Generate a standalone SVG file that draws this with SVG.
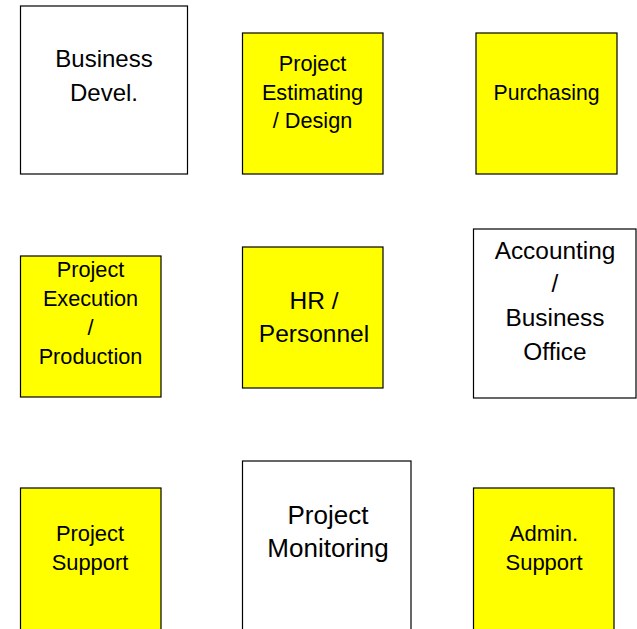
<svg xmlns="http://www.w3.org/2000/svg" width="637" height="629" viewBox="0 0 637 629">
<style>
.box{stroke:#000;stroke-width:1.2;}
.w{fill:#fff;}
.y{fill:#ffff00;}
text{font-family:"Liberation Sans",Arial,sans-serif;fill:#000;text-anchor:middle;}
</style>
<rect width="637" height="629" fill="#fff"/>
<g id="connectors"></g>
<g id="business-devel">
<rect class="box w" x="20.5" y="6" width="167" height="168"/>
<text font-size="24" x="104" y="67">Business</text>
<text font-size="24" x="104" y="101">Devel.</text>
</g>
<g id="project-estimating">
<rect class="box y" x="242.5" y="33" width="140.5" height="141"/>
<text font-size="21.7" x="312.5" y="71">Project</text>
<text font-size="21.7" x="312.5" y="99.5">Estimating</text>
<text font-size="21.7" x="312.5" y="128.3">/ Design</text>
</g>
<g id="purchasing">
<rect class="box y" x="476" y="33" width="141" height="141"/>
<text font-size="21.2" x="546.5" y="100">Purchasing</text>
</g>
<g id="project-execution">
<rect class="box y" x="20.5" y="256" width="140.5" height="141"/>
<text font-size="21.7" x="90.5" y="277">Project</text>
<text font-size="21.7" x="90.5" y="306">Execution</text>
<text font-size="21.7" x="90.5" y="335">/</text>
<text font-size="21.7" x="90.5" y="364">Production</text>
</g>
<g id="hr-personnel">
<rect class="box y" x="242.5" y="247" width="140.5" height="141"/>
<text font-size="24.5" x="314" y="308.5">HR /</text>
<text font-size="24.5" x="314" y="342">Personnel</text>
</g>
<g id="accounting">
<rect class="box w" x="473.5" y="229" width="162.5" height="169"/>
<text font-size="24.4" x="555" y="258.5">Accounting</text>
<text font-size="24.4" x="555" y="292">/</text>
<text font-size="24.4" x="555" y="326">Business</text>
<text font-size="24.4" x="555" y="359.5">Office</text>
</g>
<g id="project-support">
<rect class="box y" x="20.5" y="488" width="140.5" height="150"/>
<text font-size="21.9" x="90" y="541">Project</text>
<text font-size="21.9" x="90" y="569.5">Support</text>
</g>
<g id="project-monitoring">
<rect class="box w" x="242.5" y="461" width="168.5" height="180"/>
<text font-size="26" x="328" y="524">Project</text>
<text font-size="26" x="328" y="557">Monitoring</text>
</g>
<g id="admin-support">
<rect class="box y" x="473.5" y="488" width="140.5" height="150"/>
<text font-size="22" x="544" y="541">Admin.</text>
<text font-size="22" x="544" y="569.5">Support</text>
</g>
</svg>
